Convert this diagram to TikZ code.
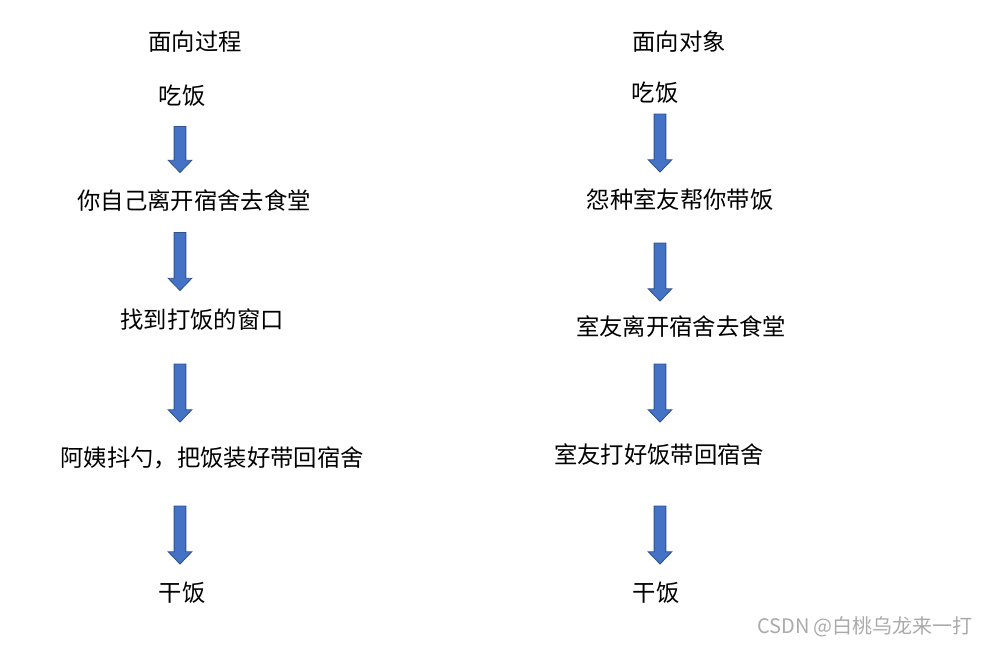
\documentclass[tikz,border=0pt]{standalone}
\usepackage{fontspec}
\setmainfont{Noto Sans CJK SC}
\usetikzlibrary{shapes.arrows}
\definecolor{arrowblue}{RGB}{68,114,196}
\definecolor{arrowedge}{RGB}{47,82,143}
\definecolor{markgray}{RGB}{170,170,170}

\begin{document}
\begin{tikzpicture}[x=0.75pt,y=-0.75pt,
  txt/.style={inner sep=0pt,font=\fontsize{17.5}{21}\selectfont},
  blk/.style={single arrow,draw=arrowedge,fill=arrowblue,line width=0.6pt,rotate=-90,inner xsep=0pt,inner ysep=4.1pt,minimum height=43.5pt,single arrow head extend=4.5pt,single arrow tip angle=88},
  wmark/.style={inner sep=0pt,text=markgray,font=\fontsize{15}{18}\selectfont}
]
  \useasboundingbox (0,0) rectangle (987,646);

  % procedure oriented
  \node[txt] (p0) at (195,42) {面向过程};
  \node[txt] (p1) at (182,96) {吃饭};
  \node[txt] (p2) at (194,201) {你自己离开宿舍去食堂};
  \node[txt] (p3) at (202,320) {找到打饭的窗口};
  \node[txt] (p4) at (212,458) {阿姨抖勺，把饭装好带回宿舍};
  \node[txt] (p5) at (182,593) {干饭};

  \node[blk,minimum height=34.5pt] (pa1) at (180,146.5) {};
  \node[blk] (pa2) at (180,258.5) {};
  \node[blk] (pa3) at (180,390) {};
  \node[blk] (pa4) at (180,532) {};

  % object oriented
  \node[txt] (o0) at (679,42) {面向对象};
  \node[txt] (o1) at (655,93) {吃饭};
  \node[txt] (o2) at (680,200) {怨种室友帮你带饭};
  \node[txt] (o3) at (681,327) {室友离开宿舍去食堂};
  \node[txt] (o4) at (659,455) {室友打好饭带回宿舍};
  \node[txt] (o5) at (656,593) {干饭};

  \node[blk] (oa1) at (660,140) {};
  \node[blk] (oa2) at (660,269) {};
  \node[blk] (oa3) at (660,390) {};
  \node[blk] (oa4) at (660,532) {};

  \node[wmark] (csdn) at (865,627) {CSDN @白桃乌龙来一打};
\end{tikzpicture}
\end{document}
